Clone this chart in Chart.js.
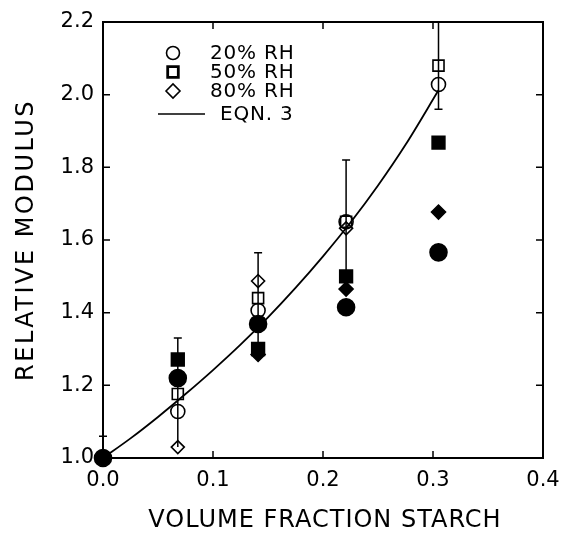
<!DOCTYPE html>
<html lang="en">
<head>
    <meta charset="UTF-8">
    <title>Relative modulus vs volume fraction starch</title>
    <style>
        html, body {
            margin: 0;
            padding: 0;
            background: white;
        }
        #wrap {
            width: 563px;
            height: 534px;
        }
    </style>
    <script src="https://cdn.jsdelivr.net/npm/chart.js"></script>
</head>
<body>
    <div id="wrap"><canvas id="chart" width="563" height="534"></canvas></div>

    <script>
        // volume fraction starch for each measured group
        const fractions = [0, 0.068, 0.141, 0.221, 0.305];

        // open symbols (legend series)
        const rh20 = [null, 1.128, 1.406, 1.650, 2.028];
        const rh50 = [null, 1.176, 1.440, 1.650, 2.080];
        const rh80 = [null, 1.030, 1.487, 1.632, null];

        // filled symbols (not in legend)
        const rh20Filled = [1.000, 1.220, 1.369, 1.415, 1.566];
        const rh50Filled = [null, 1.271, 1.300, 1.500, 1.868];
        const rh80Filled = [null, null, 1.285, 1.465, 1.677];

        // error bars
        const errX = [0, 0.068, 0.141, 0.221, 0.305];
        const errLow = [1.00, 1.03, 1.285, 1.465, 1.96];
        const errHigh = [1.06, 1.33, 1.565, 1.82, 2.20];
        const errCapLow = [false, false, false, false, true];

        // EQN. 3 curve
        const eqnX = [0, 0.025, 0.05, 0.075, 0.10, 0.125, 0.15, 0.175, 0.20, 0.225, 0.25, 0.275, 0.305];
        const eqnY = [1.00, 1.054, 1.113, 1.176, 1.242, 1.312, 1.387, 1.468, 1.555, 1.648, 1.750, 1.862, 2.012];

        const xTicks = [0, 0.1, 0.2, 0.3, 0.4];
        const yTicks = [1.0, 1.2, 1.4, 1.6, 1.8, 2.0, 2.2];

        const xTitle = 'VOLUME FRACTION STARCH';
        const yTitle = 'RELATIVE MODULUS';

        const legendItems = [
            { label: '20% RH', style: 'circle' },
            { label: '50% RH', style: 'rect' },
            { label: '80% RH', style: 'rectRot' },
            { label: 'EQN. 3', style: 'line' }
        ];

        const FONT = '"DejaVu Sans", sans-serif';

        function toPoints(xs, ys) {
            const pts = [];
            xs.forEach((x, i) => {
                if (ys[i] !== null) pts.push({ x: x, y: ys[i] });
            });
            return pts;
        }

        function markerSet(label, ys, style, radius, filled) {
            return {
                label: label,
                data: toPoints(fractions, ys),
                showLine: false,
                clip: false,
                pointStyle: style,
                pointRadius: radius,
                pointHoverRadius: radius,
                pointBorderWidth: 1.6,
                pointBorderColor: '#000',
                pointBackgroundColor: filled ? '#000' : 'rgba(0,0,0,0)'
            };
        }

        // error bars drawn through the scales
        const errorBars = {
            id: 'errorBars',
            beforeDatasetsDraw(chart) {
                const { ctx, scales: { x, y } } = chart;
                ctx.save();
                ctx.strokeStyle = '#000';
                ctx.lineWidth = 1.5;
                errX.forEach((v, i) => {
                    const px = x.getPixelForValue(v);
                    const top = y.getPixelForValue(errHigh[i]);
                    const bot = y.getPixelForValue(errLow[i]);
                    ctx.beginPath();
                    ctx.moveTo(px, bot);
                    ctx.lineTo(px, top);
                    ctx.moveTo(px - 4, top);
                    ctx.lineTo(px + 4, top);
                    if (errCapLow[i]) {
                        ctx.moveTo(px - 4, bot);
                        ctx.lineTo(px + 4, bot);
                    }
                    ctx.stroke();
                });
                ctx.restore();
            }
        };

        // frame with inward ticks on all four sides, plus axis titles
        const frame = {
            id: 'frame',
            afterDraw(chart) {
                const { ctx, chartArea: a, scales: { x, y } } = chart;
                const len = 7;
                ctx.save();
                ctx.strokeStyle = '#000';
                ctx.lineWidth = 2;
                ctx.strokeRect(a.left, a.top, a.right - a.left, a.bottom - a.top);
                ctx.lineWidth = 1.5;
                ctx.beginPath();
                xTicks.slice(1, -1).forEach(v => {
                    const px = x.getPixelForValue(v);
                    ctx.moveTo(px, a.bottom);
                    ctx.lineTo(px, a.bottom - len);
                    ctx.moveTo(px, a.top);
                    ctx.lineTo(px, a.top + len);
                });
                yTicks.slice(1, -1).forEach(v => {
                    const py = y.getPixelForValue(v);
                    ctx.moveTo(a.left, py);
                    ctx.lineTo(a.left + len, py);
                    ctx.moveTo(a.right, py);
                    ctx.lineTo(a.right - len, py);
                });
                ctx.stroke();

                // titles, spaced out a little like the plotter lettering
                ctx.fillStyle = '#000';
                ctx.font = '24px ' + FONT;
                ctx.textAlign = 'center';
                ctx.textBaseline = 'middle';
                ctx.letterSpacing = '1px';
                ctx.fillText(xTitle, (a.left + a.right) / 2 + 2, a.bottom + 63);
                ctx.letterSpacing = '2.5px';
                ctx.translate(27, (a.top + a.bottom) / 2);
                ctx.rotate(-Math.PI / 2);
                ctx.fillText(yTitle, 0, 0);
                ctx.restore();
            }
        };

        // legend inside the plot, upper left
        const insideLegend = {
            id: 'insideLegend',
            afterDraw(chart) {
                const { ctx, chartArea: a } = chart;
                const symX = a.left + 70;
                const textX = a.left + 107;
                const rows = [31, 50, 69, 92];
                ctx.save();
                ctx.strokeStyle = '#000';
                ctx.font = '20px ' + FONT;
                ctx.textBaseline = 'middle';
                ctx.letterSpacing = '0.8px';
                legendItems.forEach((item, i) => {
                    const cy = a.top + rows[i];
                    if (item.style === 'line') {
                        ctx.lineWidth = 1.5;
                        ctx.beginPath();
                        ctx.moveTo(symX - 15, cy);
                        ctx.lineTo(symX + 32, cy);
                        ctx.stroke();
                        ctx.fillStyle = '#000';
                        ctx.fillText(item.label, textX + 10, cy + 1);
                    } else {
                        const r = item.style === 'circle' ? 6.5 : (item.style === 'rect' ? 7.5 : 7);
                        const bw = item.style === 'rect' ? 2.8 : 1.6;
                        ctx.lineWidth = bw;
                        ctx.fillStyle = 'rgba(0,0,0,0)';
                        Chart.helpers.drawPoint(ctx, { pointStyle: item.style, radius: r, borderWidth: bw }, symX, cy);
                        ctx.fillStyle = '#000';
                        ctx.fillText(item.label, textX, cy + 1);
                    }
                });
                ctx.restore();
            }
        };

        new Chart(document.getElementById('chart'), {
            type: 'scatter',
            data: {
                datasets: [
                    markerSet('20% RH', rh20, 'circle', 7, false),
                    markerSet('50% RH', rh50, 'rect', 7.8, false),
                    markerSet('80% RH', rh80, 'rectRot', 6.5, false),
                    markerSet('20% RH filled', rh20Filled, 'circle', 8.5, true),
                    markerSet('50% RH filled', rh50Filled, 'rect', 9, true),
                    markerSet('80% RH filled', rh80Filled, 'rectRot', 7, true),
                    {
                        label: 'EQN. 3',
                        data: toPoints(eqnX, eqnY),
                        showLine: true,
                        borderColor: '#000',
                        borderWidth: 1.8,
                        pointRadius: 0,
                        cubicInterpolationMode: 'monotone',
                        fill: false
                    }
                ]
            },
            options: {
                responsive: false,
                animation: false,
                layout: { padding: { top: 22, right: 20, left: 0, bottom: 0 } },
                plugins: {
                    legend: { display: false },
                    tooltip: { enabled: false }
                },
                scales: {
                    x: {
                        type: 'linear',
                        min: 0,
                        max: 0.4,
                        afterBuildTicks: s => { s.ticks = xTicks.map(v => ({ value: v })); },
                        afterFit: s => {
                            s.height = 76;
                            s.paddingLeft = 0;
                            s.paddingRight = 0;
                        },
                        grid: { display: false, drawTicks: false },
                        border: { display: false },
                        ticks: {
                            color: '#000',
                            padding: 10,
                            font: { family: FONT, size: 21 },
                            callback: v => v.toFixed(1)
                        }
                    },
                    y: {
                        type: 'linear',
                        min: 1.0,
                        max: 2.2,
                        afterBuildTicks: s => { s.ticks = yTicks.map(v => ({ value: v })); },
                        afterFit: s => {
                            s.width = 103;
                            s.paddingTop = 0;
                            s.paddingBottom = 0;
                        },
                        grid: { display: false, drawTicks: false },
                        border: { display: false },
                        ticks: {
                            color: '#000',
                            padding: 9,
                            font: { family: FONT, size: 21 },
                            callback: v => v.toFixed(1)
                        }
                    }
                }
            },
            plugins: [errorBars, frame, insideLegend]
        });
    </script>
</body>
</html>
